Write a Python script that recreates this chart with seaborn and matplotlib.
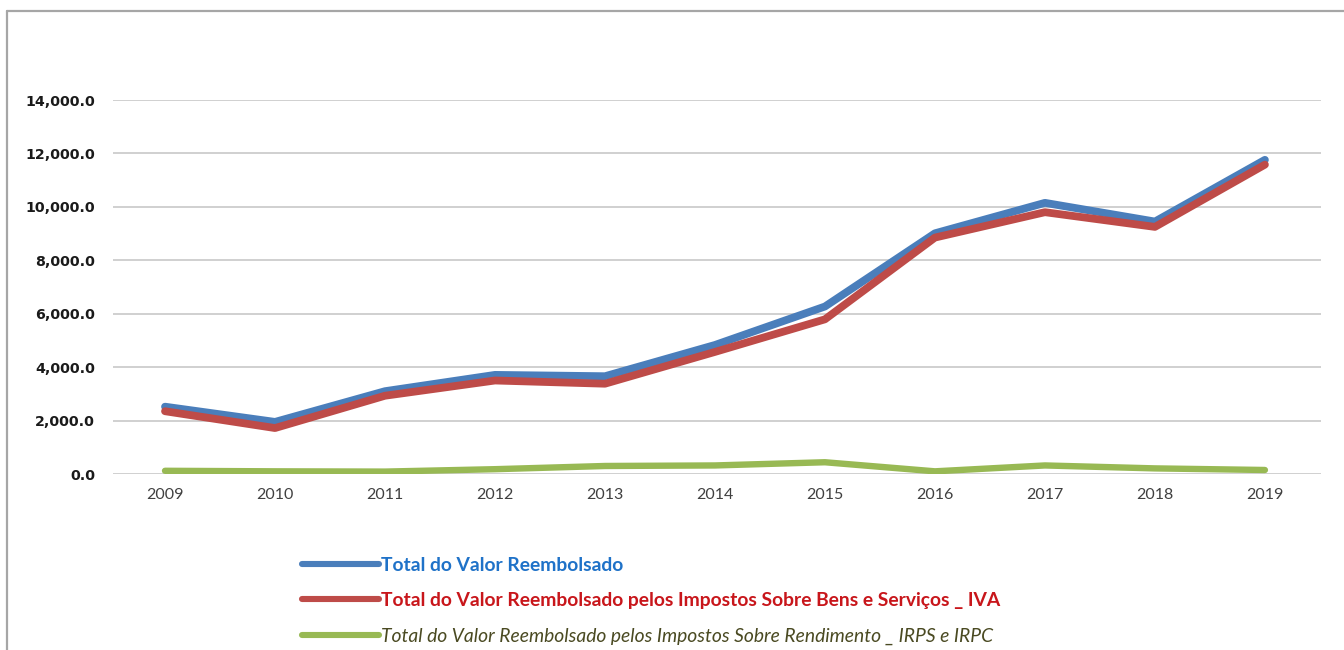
import matplotlib
matplotlib.use("Agg")
import matplotlib.pyplot as plt
from matplotlib.lines import Line2D
from matplotlib.ticker import FuncFormatter
import seaborn as sns
import pandas as pd

# Refund totals per year (millions of euros)
anos = [2009, 2010, 2011, 2012, 2013, 2014, 2015, 2016, 2017, 2018, 2019]
total_reembolsado = [2520, 1950, 3100, 3710, 3660, 4830, 6270, 9010, 10150, 9450, 11760]
reembolso_iva = [2350, 1720, 2930, 3500, 3380, 4570, 5790, 8850, 9800, 9250, 11580]
reembolso_irs_irc = [120, 100, 90, 180, 300, 320, 440, 100, 320, 210, 150]

series_labels = [
    "Total do Valor Reembolsado",
    "Total do Valor Reembolsado pelos Impostos Sobre Bens e Serviços _ IVA",
    "Total do Valor Reembolsado pelos Impostos Sobre Rendimento _ IRPS e IRPC",
]
line_colors = ["#4A7EBB", "#BE4B48", "#98B954"]
text_colors = ["#1F72C8", "#C8161B", "#4A4A22"]
y_ticks = [0, 2000, 4000, 6000, 8000, 10000, 12000, 14000]

sns.set_theme(style="white")
plt.rcParams["font.family"] = ["Lato", "DejaVu Sans"]

fig = plt.figure(figsize=(13.44, 6.5), dpi=100)
ax = fig.add_axes([113 / 1344, 1 - 474 / 650, (1321 - 113) / 1344, (474 - 100) / 650])

widths = [5.6, 5.6, 4.6]
for values, label, color, lw in zip(
    [total_reembolsado, reembolso_iva, reembolso_irs_irc], series_labels, line_colors, widths
):
    df = pd.DataFrame({"Ano": anos, "Valor": values})
    sns.lineplot(data=df, x="Ano", y="Valor", color=color, linewidth=lw,
                 solid_capstyle="round", solid_joinstyle="round", ax=ax, legend=False)

ax.set_xlim(anos[0] - 0.473, anos[-1] + 0.51)
ax.set_ylim(0, 14000)
ax.set_xticks(anos)
ax.set_xticklabels([str(a) for a in anos])
ax.set_yticks(y_ticks)
ax.yaxis.set_major_formatter(FuncFormatter(lambda v, _: f"{v:,.1f}"))
ax.set_xlabel("")
ax.set_ylabel("")

ax.grid(axis="y", color="#D0D0D0", linewidth=1.4)
ax.grid(axis="x", visible=False)
ax.set_axisbelow(True)
for spine in ax.spines.values():
    spine.set_visible(False)

ax.tick_params(axis="x", length=0, pad=10, labelsize=11.5, labelcolor="#404040")
ax.tick_params(axis="y", length=0, pad=13, labelsize=10.2, labelcolor="#1A1A1A")
for lab in ax.get_yticklabels():
    lab.set_fontfamily("DejaVu Sans")
    lab.set_fontweight("bold")

# Legend below the plot, with text coloured like its series
handles = [Line2D([0], [0], color=c, linewidth=4.4, solid_capstyle="round") for c in line_colors]
fs = 13.9
leg = fig.legend(handles, series_labels, loc="upper left",
                 bbox_to_anchor=(302 / 1344, 1 - 557 / 650), bbox_transform=fig.transFigure,
                 frameon=False, borderpad=0, borderaxespad=0, fontsize=fs,
                 handlelength=4.0, handletextpad=0.1, labelspacing=0.94)
for txt, col, i in zip(leg.get_texts(), text_colors, range(3)):
    txt.set_color(col)
    txt.set_fontweight("bold" if i < 2 else "normal")
    if i == 2:
        txt.set_fontstyle("italic")

# Outer frame lines
fig.add_artist(Line2D([7 / 1344, 7 / 1344], [0, 1 - 11 / 650], transform=fig.transFigure,
                      color="#A6A6A6", linewidth=1.6))
fig.add_artist(Line2D([7 / 1344, 1], [1 - 11 / 650, 1 - 11 / 650], transform=fig.transFigure,
                      color="#A6A6A6", linewidth=1.6))

fig.savefig("out.png", dpi=100, facecolor="white")
